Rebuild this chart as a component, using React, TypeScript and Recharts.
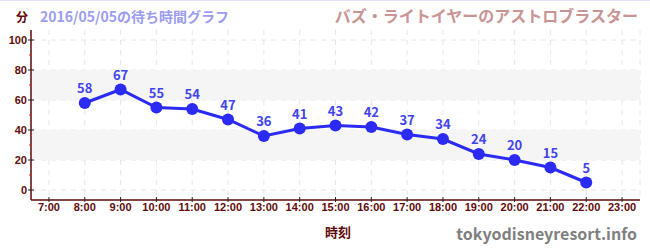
import React from 'react';
import {
  LineChart,
  Line,
  XAxis,
  YAxis,
  CartesianGrid,
  ReferenceArea,
  LabelList,
} from 'recharts';

const times = ['7:00', '8:00', '9:00', '10:00', '11:00', '12:00', '13:00', '14:00', '15:00', '16:00', '17:00', '18:00', '19:00', '20:00', '21:00', '22:00', '23:00'];
const waits: (number | null)[] = [null, 58, 67, 55, 54, 47, 36, 41, 43, 42, 37, 34, 24, 20, 15, 5, null];
const yTicks = [0, 10, 20, 30, 40, 50, 60, 70, 80, 90, 100];
const yMajor = [0, 20, 40, 60, 80, 100];
const bands = [
  [20, 40],
  [60, 80],
];
const titleDate = '2016/05/05の待ち時間グラフ';
const titleRide = 'バズ・ライトイヤーのアストロブラスター';
const unitLabel = '分';
const xAxisLabel = '時刻';
const siteLabel = 'tokyodisneyresort.info';

const data = times.map((t, i) => ({ time: t, wait: waits[i] }));

const DARK = '#5e0a0a';
const BLUE = '#2b2bf5';
const NUM_FONT = '"Liberation Sans", Arial, sans-serif';
const CJK_FONT = '"Noto Sans CJK JP", "Noto Sans", sans-serif';
const HALF_STEP = 610 / 17 / 2;

const YTick = (props: any) => {
  const { x, y, payload } = props;
  const v = payload.value;
  if (v % 20 === 0) {
    return (
      <g>
        <line x1={x - 3} x2={x + 3} y1={y} y2={y} stroke="#222" strokeWidth={1} />
        <text x={x - 4} y={y} dy={4} textAnchor="end" fontFamily={NUM_FONT} fontWeight="bold" fontSize={11} fill={DARK}>
          {v}
        </text>
      </g>
    );
  }
  return <line x1={x - 2} x2={x} y1={y} y2={y} stroke="#e02020" strokeWidth={1} />;
};

const XTick = (props: any) => {
  const { x, y, payload } = props;
  return (
    <g>
      <line x1={x} x2={x} y1={y - 3} y2={y + 2} stroke="#222" strokeWidth={1} />
      <text x={x} y={y + 11} textAnchor="middle" fontFamily={NUM_FONT} fontWeight="bold" fontSize={11} fill={DARK}>
        {payload.value}
      </text>
    </g>
  );
};

export default function App() {
  return (
    <div style={{ position: 'absolute', left: 0, top: 0, width: 650, height: 250, background: '#fff' }}>
      <LineChart width={650} height={250} data={data} margin={{ top: 30, right: 10, bottom: 20, left: 0 }}>
        <CartesianGrid
          stroke="#e6e6e6"
          strokeDasharray="5 5"
          horizontalValues={yMajor}
          vertical={true}
        />
        <XAxis xAxisId="full" dataKey="time" type="category" hide height={0} />
        {bands.map(([a, b]) => (
          <ReferenceArea
            key={a}
            xAxisId="full"
            x1={times[0]}
            x2={times[times.length - 1]}
            y1={a}
            y2={b}
            fill="#f5f5f5"
            fillOpacity={1}
            stroke="none"
          />
        ))}
        <XAxis
          dataKey="time"
          type="category"
          height={30}
          padding={{ left: HALF_STEP, right: HALF_STEP }}
          tickSize={0}
          tickMargin={0}
          tickLine={false}
          axisLine={{ stroke: DARK, strokeWidth: 1.5 }}
          tick={<XTick />}
          interval={0}
        />
        <YAxis
          type="number"
          width={31}
          domain={[-20 / 3, 320 / 3]}
          allowDataOverflow={true}
          ticks={yTicks}
          interval={0}
          tickSize={0}
          tickMargin={0}
          tickLine={false}
          axisLine={{ stroke: DARK, strokeWidth: 1.5 }}
          tick={<YTick />}
        />
        <Line
          type="linear"
          dataKey="wait"
          stroke={BLUE}
          strokeWidth={3}
          dot={{ r: 6, fill: BLUE, stroke: 'none' }}
          activeDot={false}
          isAnimationActive={false}
        >
          <LabelList
            dataKey="wait"
            position="top"
            offset={10}
            fill="#4343ee"
            fontFamily={CJK_FONT}
            fontWeight="bold"
            fontSize={13}
          />
        </Line>
      </LineChart>
      <svg width={650} height={250} style={{ position: 'absolute', left: 0, top: 0, pointerEvents: 'none' }}>
        <rect x={0} y={0} width={650} height={1} fill="#e2e2fb" />
        <text x={16} y={22} fontFamily={CJK_FONT} fontWeight="bold" fontSize={12} fill={DARK}>
          {unitLabel}
        </text>
        <text x={40} y={22} fontFamily={CJK_FONT} fontWeight="bold" fontSize={14} fill="#9c9cf0">
          {titleDate}
        </text>
        <text x={638} y={22} textAnchor="end" fontFamily={CJK_FONT} fontWeight="bold" fontSize={16} fill="#c99494">
          {titleRide}
        </text>
        <text x={338} y={237} textAnchor="middle" fontFamily={CJK_FONT} fontWeight="bold" fontSize={13} fill={DARK}>
          {xAxisLabel}
        </text>
        <text x={637} y={240} textAnchor="end" fontFamily={CJK_FONT} fontWeight="bold" fontSize={16} fill="#7f7f7f">
          {siteLabel}
        </text>
      </svg>
    </div>
  );
}
